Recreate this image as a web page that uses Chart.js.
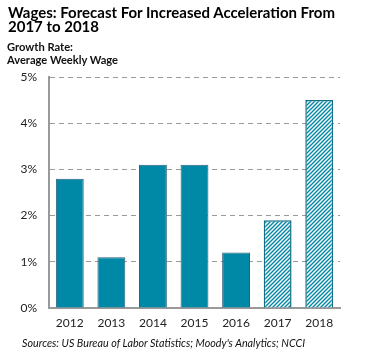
<!DOCTYPE html>
<html><head><meta charset="utf-8">
<script src="https://cdn.jsdelivr.net/npm/chart.js@4/dist/chart.umd.min.js"></script>
<style>
html,body{margin:0;padding:0;background:#fff;}
#wrap{position:relative;width:370px;height:363px;overflow:hidden;font-family:Lato,"Open Sans",sans-serif;}
.tx{position:absolute;white-space:nowrap;transform-origin:0 0;line-height:1;}
#t1,#t2{font-weight:bold;font-size:14.5px;color:#000;}
#t1{left:8px;top:6px;}
#t2{left:8px;top:20px;}
#s1,#s2{font-weight:bold;font-size:11px;color:#111;}
#s1{left:7px;top:41px;}
#s2{left:7px;top:54px;}
#src{left:22px;top:337.5px;font-style:italic;font-size:10.5px;color:#111;}
canvas{position:absolute;left:0;top:0;}
</style></head>
<body><div id="wrap">
<canvas id="c" width="370" height="363"></canvas>
<div class="tx" id="t1" data-w="327">Wages: Forecast For Increased Acceleration From</div>
<div class="tx" id="t2" data-w="91">2017 to 2018</div>
<div class="tx" id="s1" data-w="66">Growth Rate:</div>
<div class="tx" id="s2" data-w="111">Average Weekly Wage</div>
<div class="tx" id="src" data-w="283">Sources: US Bureau of Labor Statistics; Moody's Analytics; NCCI</div>
</div>
<script>
const categories = ["2012","2013","2014","2015","2016","2017","2018"];
const growthRate = [2.8, 1.1, 3.1, 3.1, 1.2, 1.9, 4.5];
const isForecast = [false,false,false,false,false,true,true];
const yTicks = [0,1,2,3,4,5];

function fit(){
  document.querySelectorAll(".tx").forEach(el => {
    el.style.transform = "none";
    const w = el.getBoundingClientRect().width;
    const target = +el.dataset.w;
    if (w > 0) el.style.transform = "scaleX(" + (target / w) + ")";
  });
}
fit();
if (document.fonts) {
  document.fonts.load("bold 14.5px Lato").then(fit);
  document.fonts.load("bold 11px Lato").then(fit);
  document.fonts.load("italic 10.5px Lato").then(fit);
  document.fonts.ready.then(fit);
}

const teal = "#0089A6";
function hatch(){
  const c = document.createElement("canvas");
  c.width = 4; c.height = 4;
  const g = c.getContext("2d");
  g.fillStyle = "#fff"; g.fillRect(0,0,4,4);
  g.strokeStyle = teal; g.lineWidth = 1.4;
  g.beginPath();
  g.moveTo(0,4); g.lineTo(4,0);
  g.moveTo(-1,1); g.lineTo(1,-1);
  g.moveTo(3,5); g.lineTo(5,3);
  g.stroke();
  return g.createPattern(c,"repeat");
}
const pat = hatch();

const chart = new Chart(document.getElementById("c"), {
  type: "bar",
  data: {
    labels: categories,
    datasets: [{
      data: growthRate,
      backgroundColor: isForecast.map(f => f ? pat : teal),
      borderColor: isForecast.map(f => f ? "#136F86" : "#2B5F7E"),
      borderWidth: isForecast.map(f => f ? 1.5 : 1),
      categoryPercentage: 1,
      barPercentage: 0.67
    }]
  },
  options: {
    responsive: false,
    animation: false,
    devicePixelRatio: 1,
    layout: { padding: { left: 8, right: 30, top: 77, bottom: 30 } },
    plugins: { legend: { display: false }, tooltip: { enabled: false } },
    scales: {
      x: {
        grid: { display: false, drawTicks: false },
        border: { display: true, color: "#999", width: 2 },
        ticks: { color: "#222", font: { family: "Lato", size: 12 }, padding: 8 },
        afterFit: s => { s.height = 25; }
      },
      y: {
        min: 0, max: 5,
        afterBuildTicks: s => { s.ticks = yTicks.map(v => ({ value: v })); },
        grid: { color: "#9a9a9a", drawTicks: false, borderDash: [5,4] },
        border: { display: true, color: "#999", width: 2, dash: [5,4] },
        ticks: { color: "#222", font: { family: "Lato", size: 12 }, padding: 12, callback: v => v + "%" },
        afterFit: s => { s.width = 41; }
      }
    }
  }
});
if (document.fonts) document.fonts.ready.then(() => chart.update());
</script>
</body></html>
